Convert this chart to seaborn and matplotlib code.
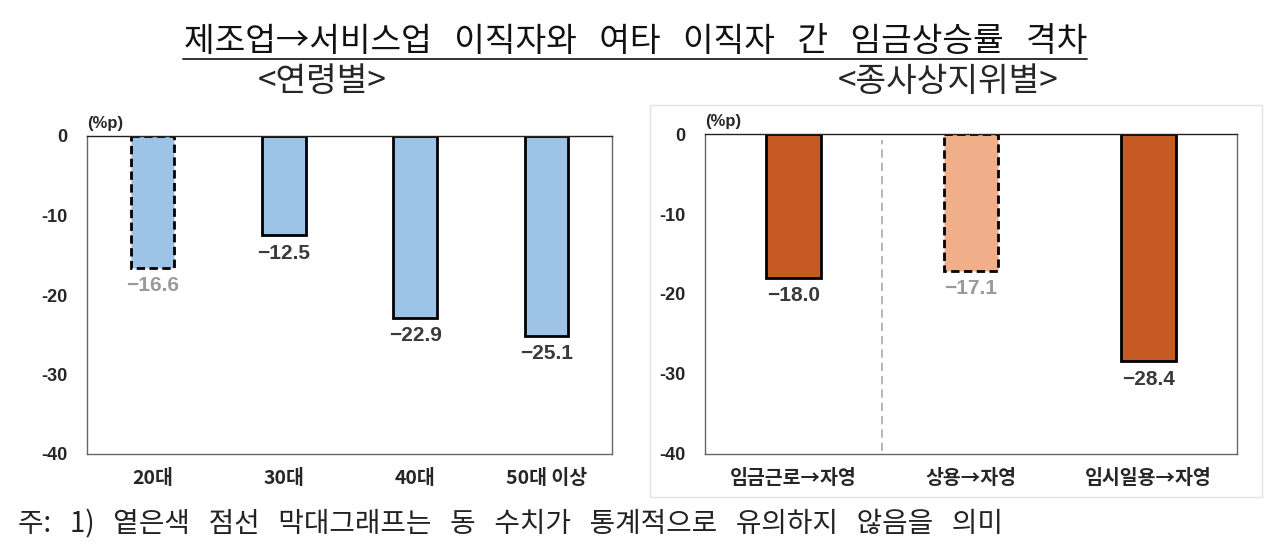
import numpy as np
import pandas as pd
import seaborn as sns
import matplotlib.pyplot as plt
from matplotlib.patches import Rectangle
from matplotlib.lines import Line2D

sns.set_theme(style="white")
plt.rcParams['font.family'] = ['Noto Sans CJK KR', 'DejaVu Sans']
plt.rcParams['axes.unicode_minus'] = False

# data
age_cats = ['20대', '30대', '40대', '50대 이상']
age_vals = [-16.6, -12.5, -22.9, -25.1]
age_signif = [False, True, True, True]

status_cats = ['임금근로→자영', '상용→자영', '임시일용→자영']
status_vals = [-18.0, -17.1, -28.4]
status_signif = [True, False, True]

title_words = ['제조업→서비스업', '이직자와', '여타', '이직자', '간', '임금상승률', '격차']
note_words = ['주:', '1)', '옅은색', '점선', '막대그래프는', '동', '수치가', '통계적으로',
			  '유의하지', '않음을', '의미']


def panel(ax, cats, vals, signif, dark, light, width):
	data = pd.DataFrame({'cat': cats, 'val': vals})
	colors = [dark if s else light for s in signif]
	sns.barplot(data=data, x='cat', y='val', hue='cat', palette=colors, saturation=1,
				legend=False, width=width, ax=ax, edgecolor='black', linewidth=2)
	for cont, v, s in zip(ax.containers, vals, signif):
		for bar in cont:
			if not s:
				bar.set_linestyle((0, (3, 1.6)))
		ax.bar_label(cont, labels=[f'−{abs(v):.1f}'], padding=6, fontsize=15,
					 fontweight='bold', color='#3a3a3a' if s else '#9a9a9a',
					 family=['Liberation Sans', 'DejaVu Sans'])
	ax.set_ylim(-40, 0)
	ax.set_yticks([0, -10, -20, -30, -40])
	ax.set_xlabel('')
	ax.set_ylabel('')
	ax.tick_params(axis='y', length=0, pad=14, labelsize=13)
	ax.tick_params(axis='x', length=0, pad=11, labelsize=14)
	for lab in ax.get_yticklabels():
		lab.set_fontweight('bold')
		lab.set_family(['Liberation Sans', 'DejaVu Sans'])
	for lab in ax.get_xticklabels():
		lab.set_fontweight('bold')
	for sp in ax.spines.values():
		sp.set_visible(True)
		sp.set_color('#666666')
		sp.set_linewidth(1)
	ax.spines['top'].set_color('#222222')
	ax.text(0.0, 1.015, '(%p)', transform=ax.transAxes, ha='left', va='bottom',
			fontsize=12, fontweight='bold', family=['Liberation Sans', 'DejaVu Sans'])


fig = plt.figure(figsize=(12.8, 5.56), dpi=100)
fig.patch.set_facecolor('white')

# light frame round the right panel
fig.add_artist(Rectangle((650 / 1280, 1 - 497 / 556), 612 / 1280, 392 / 556,
						 transform=fig.transFigure, facecolor='white',
						 edgecolor='#e2e2e2', linewidth=1, zorder=0))

ax1 = fig.add_axes([87 / 1280, 1 - 454 / 556, 525 / 1280, 318 / 556])
ax2 = fig.add_axes([705 / 1280, 1 - 454 / 556, 532 / 1280, 320 / 556])

panel(ax1, age_cats, age_vals, age_signif, '#9dc3e6', '#9dc3e6', 0.33)
panel(ax2, status_cats, status_vals, status_signif, '#c55a22', '#f0af88', 0.31)
ax2.axvline(0.5, ymin=0.01, ymax=0.98, color='#aaaaaa', linestyle=(0, (5, 3)), linewidth=1.2)

fig.text(0.497, 1 - 41 / 556, '   '.join(title_words), ha='center', va='center',
		 fontsize=24, color='#111111')
fig.add_artist(Line2D([183 / 1280, 1087 / 1280], [1 - 59 / 556, 1 - 59 / 556],
					  transform=fig.transFigure, color='#222222', linewidth=1.3))
fig.text(322 / 1280, 1 - 81 / 556, '<연령별>', ha='center', va='center', fontsize=24)
fig.text(948 / 1280, 1 - 81 / 556, '<종사상지위별>', ha='center', va='center', fontsize=24)
fig.text(18 / 1280, 1 - 524 / 556, '   '.join(note_words), ha='left', va='center',
		 fontsize=20, color='#222222')

fig.savefig('out.png', dpi=100)
